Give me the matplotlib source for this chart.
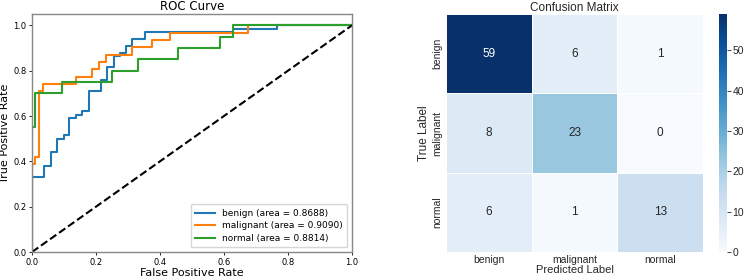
import numpy as np
import matplotlib
matplotlib.use("Agg")
import matplotlib.pyplot as plt

# ROC data (step curves)
benign_fpr = [0.0, 0.0, 0.038, 0.038, 0.058, 0.058, 0.078, 0.078, 0.100, 0.100, 0.117, 0.117, 0.137, 0.137,
              0.157, 0.157, 0.177, 0.177, 0.216, 0.216, 0.235, 0.235, 0.256, 0.256, 0.275, 0.275,
              0.294, 0.294, 0.3125, 0.3125, 0.353, 0.353, 0.629, 0.629, 0.765, 0.765, 1.0]
benign_tpr = [0.0, 0.333, 0.333, 0.379, 0.379, 0.439, 0.439, 0.5, 0.5, 0.515, 0.515, 0.591, 0.591, 0.606,
              0.606, 0.621, 0.621, 0.712, 0.712, 0.758, 0.758, 0.818, 0.818, 0.864, 0.864, 0.879,
              0.879, 0.909, 0.909, 0.939, 0.939, 0.970, 0.970, 0.985, 0.985, 1.0, 1.0]
malig_fpr = [0.0, 0.0, 0.009, 0.009, 0.023, 0.023, 0.033, 0.033, 0.139, 0.139, 0.186, 0.186, 0.21, 0.21,
             0.231, 0.231, 0.311, 0.311, 0.374, 0.374, 0.431, 0.431, 0.675, 0.675, 1.0]
malig_tpr = [0.0, 0.387, 0.387, 0.419, 0.419, 0.710, 0.710, 0.742, 0.742, 0.774, 0.774, 0.806, 0.806, 0.839,
             0.839, 0.871, 0.871, 0.903, 0.903, 0.935, 0.935, 0.968, 0.968, 1.0, 1.0]
normal_fpr = [0.0, 0.0, 0.009, 0.009, 0.093, 0.093, 0.249, 0.249, 0.33, 0.33, 0.455, 0.455, 0.587, 0.587,
              0.629, 0.629, 1.0]
normal_tpr = [0.0, 0.55, 0.55, 0.70, 0.70, 0.75, 0.75, 0.80, 0.80, 0.85, 0.85, 0.90, 0.90, 0.95,
              0.95, 1.0, 1.0]
roc_labels = ["benign (area = 0.8688)", "malignant (area = 0.9090)", "normal (area = 0.8814)"]

# Confusion matrix
class_names = ["benign", "malignant", "normal"]
cm = np.array([[59, 6, 1],
               [8, 23, 0],
               [6, 1, 13]])

W, H = 749, 278
fig = plt.figure(figsize=(W / 100, H / 100), dpi=100)

# ---- ROC ----
ax = fig.add_axes([32 / W, 26 / H, 320 / W, 238 / H])
ax.plot(benign_fpr, benign_tpr, color="#1f77b4", lw=1.5, label=roc_labels[0])
ax.plot(malig_fpr, malig_tpr, color="#ff7f0e", lw=1.5, label=roc_labels[1])
ax.plot(normal_fpr, normal_tpr, color="#2ca02c", lw=1.5, label=roc_labels[2])
ax.plot([0, 1], [0, 1], "k--", lw=1.5)
ax.set_xlim(0, 1)
ax.set_ylim(0, 1.05)
ax.set_xticks([0, 0.2, 0.4, 0.6, 0.8, 1.0])
ax.set_yticks([0, 0.2, 0.4, 0.6, 0.8, 1.0])
ax.tick_params(labelsize=6, length=2.5, width=0.6, pad=1.5)
for s in ax.spines.values():
    s.set_color("#888888")
    s.set_linewidth(1.0)
ax.set_xlabel("False Positive Rate", fontsize=8, labelpad=1)
ax.set_ylabel("True Positive Rate", fontsize=8, labelpad=2)
ax.set_title("ROC Curve", fontsize=8.5, pad=3)
ax.legend(loc="lower right", fontsize=6.5, handlelength=2.2, borderpad=0.5, labelspacing=0.4)

# ---- Confusion matrix ----
sans = ["Liberation Sans", "DejaVu Sans"]
txt = "#262626"
ax2 = fig.add_axes([446 / W, 26 / H, 257 / W, 238 / H])
cax = fig.add_axes([719 / W, 26 / H, 8 / W, 238 / H])
im = ax2.pcolormesh(np.arange(4), np.arange(4), cm, cmap="Blues", vmin=0, vmax=cm.max(),
                    edgecolors="white", linewidth=0.5)
ax2.set_xlim(0, 3)
ax2.set_ylim(3, 0)
for i in range(3):
    for j in range(3):
        v = cm[i, j]
        col = "white" if v > cm.max() * 0.6 else txt
        ax2.text(j + 0.5, i + 0.5, str(v), ha="center", va="center", color=col,
                 fontsize=8.5, family=sans)
ax2.set_xticks(np.arange(3) + 0.5)
ax2.set_yticks(np.arange(3) + 0.5)
ax2.set_xticklabels(class_names, family=sans, fontsize=7.5)
ax2.set_yticklabels(class_names, family=sans, fontsize=7.5, rotation=90, va="center")
ax2.tick_params(axis="y", length=0, pad=3, colors=txt)
ax2.tick_params(axis="x", length=0, pad=2, colors=txt)
for s in ax2.spines.values():
    s.set_visible(False)
ax2.set_xlabel("Predicted Label", family=sans, fontsize=8, labelpad=0, color=txt)
ax2.set_ylabel("True Label", family=sans, fontsize=8.5, labelpad=1, color=txt)
ax2.set_title("Confusion Matrix", family=sans, fontsize=8.5, pad=2, color=txt)

cb = fig.colorbar(im, cax=cax)
cb.outline.set_visible(False)
cb.set_ticks([0, 10, 20, 30, 40, 50])
cax.tick_params(labelsize=7.5, length=3, width=0.6, pad=1, colors=txt)
for t in cax.get_yticklabels():
    t.set_family(sans)

fig.savefig("out.png", dpi=100)
